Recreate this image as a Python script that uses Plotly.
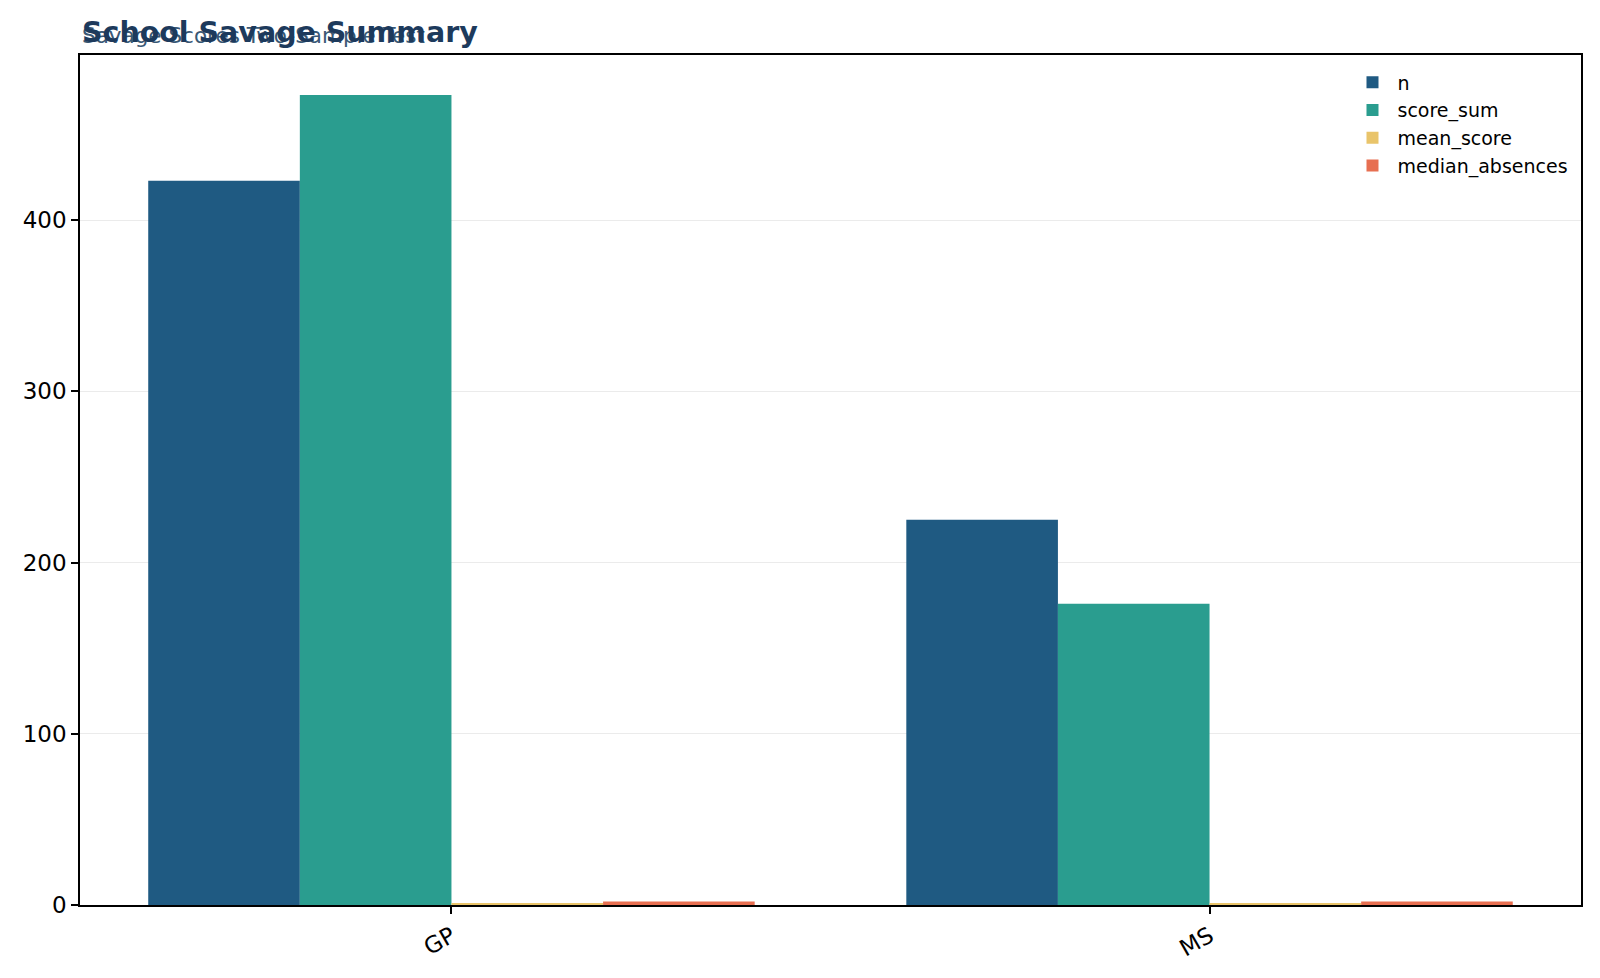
import plotly.graph_objects as go

schools = ["GP", "MS"]
n = [423, 225]
score_sum = [473, 176]
mean_score = [1.12, 0.78]
median_absences = [2, 2]

series = [
    ("n", n, "#1f5a82"),
    ("score_sum", score_sum, "#2a9d8f"),
    ("mean_score", mean_score, "#e9c46a"),
    ("median_absences", median_absences, "#e76f51"),
]

fig = go.Figure()
for name, vals, col in series:
    fig.add_trace(go.Bar(x=schools, y=vals, name=name, marker=dict(color=col, line=dict(width=0))))

# page body has an 8px margin, so the figure is sized to fit exactly inside the window
fig.update_layout(
    width=1584, height=962,
    barmode="group", bargap=0.2, bargroupgap=0,
    plot_bgcolor="white", paper_bgcolor="white",
    margin=dict(l=72, r=9, t=47, b=63),
    font=dict(family="DejaVu Sans", size=23, color="black"),
    showlegend=True,
    legend=dict(x=0.995, xanchor="right", y=0.99, yanchor="top", bgcolor="rgba(0,0,0,0)",
                font=dict(size=19), itemwidth=40),
    annotations=[
        dict(text="Savage Scores Two-Sample Test", xref="paper", yref="paper", x=0, y=1,
             xanchor="left", yanchor="bottom", yshift=5, showarrow=False,
             font=dict(size=21.5, color="#3a5875")),
        dict(text="<b>School Savage Summary</b>", xref="paper", yref="paper", x=0, y=1,
             xanchor="left", yanchor="bottom", yshift=4, showarrow=False,
             font=dict(size=28.5, color="#1d3a5c")),
    ],
)
fig.update_xaxes(range=[-0.49, 1.49], showline=True, linecolor="black", linewidth=1.6, mirror=True,
                 ticks="outside", ticklen=7, tickwidth=1.5, tickcolor="black", tickangle=-30, showgrid=False)
fig.update_yaxes(range=[0, 496.4], showline=True, linecolor="black", linewidth=1.6, mirror=True,
                 ticks="outside", ticklen=7, tickwidth=1.5, tickcolor="black", tickvals=[0, 100, 200, 300, 400],
                 showgrid=True, gridcolor="#ebebeb", zeroline=False)

fig.write_html("out.html")
